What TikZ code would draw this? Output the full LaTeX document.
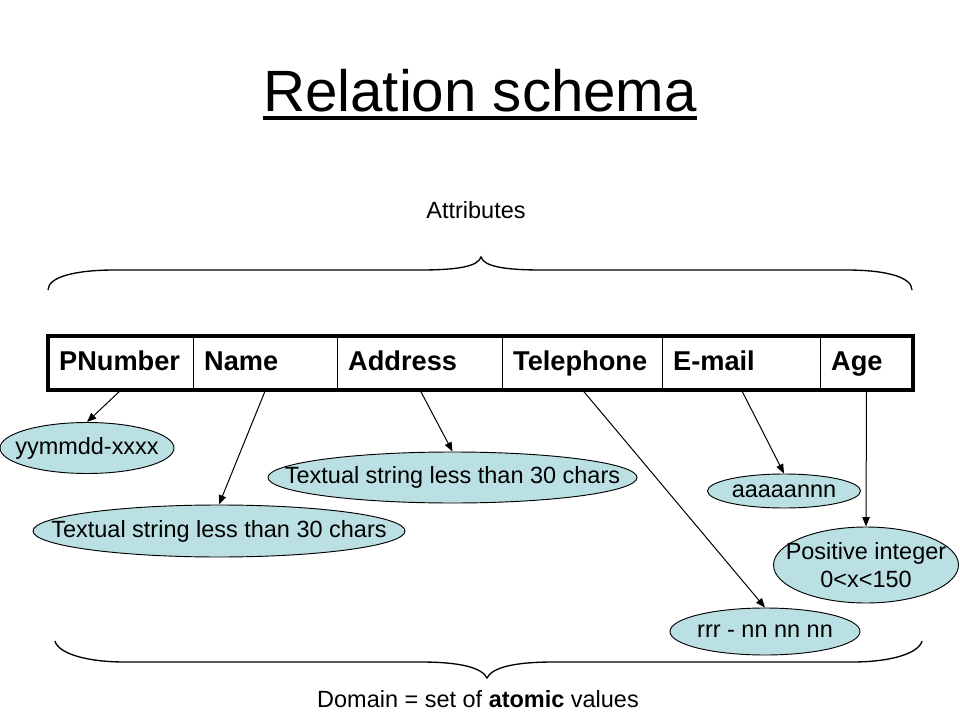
\documentclass[tikz,border=0pt]{standalone}
\usepackage{fontspec}
\setmainfont{Liberation Sans}
\usetikzlibrary{shapes.geometric,arrows.meta}
\definecolor{dombg}{RGB}{187,224,227}
\begin{document}
\begin{tikzpicture}[x=0.75pt,y=-0.75pt,
  smalltext/.style={font=\fontsize{17.6}{20.5}\selectfont,inner sep=0pt},
  dom/.style={ellipse,draw=black,line width=0.7pt,fill=dombg,inner sep=0pt,
    minimum width=#1},
  domtext/.style={font=\fontsize{17.6}{20.5}\selectfont,inner sep=0pt,align=center},
  cell/.style={draw=black,line width=0.75pt,rectangle,anchor=north west,
    minimum height=39.75pt,inner xsep=8pt,inner ysep=0pt,align=left,
    text height=15pt,text depth=4pt,
    text width=#1,font=\fontsize{20.4}{24}\selectfont\bfseries},
  conn/.style={-{Triangle[length=7pt,width=5.5pt]},line width=0.75pt},
  bracestyle/.style={line width=1pt}]
\useasboundingbox (0,0) rectangle (960,720);

% title
\node[anchor=base,font=\fontsize{43.7}{50}\selectfont,inner sep=0pt] (title) at (480,112) {Relation schema};
\draw[line width=3pt] ([yshift=-4.5pt]title.base west) -- ([yshift=-4.5pt]title.base east);

% attributes label and brace
\node[smalltext,anchor=base] (attr) at (476,219) {Attributes};
\draw[bracestyle] (48,290) .. controls (48,277) and (75,270) .. (115,270) -- (420,270)
  .. controls (460,270) and (478,266) .. (481,257)
  .. controls (484,266) and (502,270) .. (542,270) -- (846,270)
  .. controls (886,270) and (912,277) .. (912,290);

% table
\node[cell=92.75pt]  (c1) at (48,336)  {PNumber};
\node[cell=92pt]     (c2) at (193,336) {Name};
\node[cell=107.75pt] (c3) at (337,336) {Address};
\node[cell=104pt]    (c4) at (502,336) {Telephone};
\node[cell=102.5pt]  (c5) at (662,336) {E-mail};
\node[cell=53pt]     (c6) at (820,336) {Age};
\draw[line width=2.6pt] (c1.north west) rectangle (c6.south east);

% domains
\node[dom=130.5pt,minimum height=38.25pt] (d1) at (87,448) {};
\node[dom=279pt,minimum height=39pt] (d2) at (219,531) {};
\node[dom=276.75pt,minimum height=38.25pt] (d3) at (452.5,477.5) {};
\node[dom=142.5pt,minimum height=35.25pt] (d4) at (765,631.5) {};
\node[dom=114.75pt,minimum height=25.5pt] (d5) at (784,491) {};
\node[dom=138.75pt,minimum height=57pt] (d6) at (866,565) {};
\node[domtext] (t1) at (d1) {yymmdd-xxxx};
\node[domtext] (t2) at (d2) {Textual string less than 30 chars};
\node[domtext] (t3) at (d3) {Textual string less than 30 chars};
\node[domtext] (t4) at (d4) {rrr - nn nn nn};
\node[domtext] (t5) at (d5) {aaaaannn};
\node[domtext] (t6) at (d6) {Positive integer\\0<x<150};

% connectors
\draw[conn] (c1.south) -- (d1.north);
\draw[conn] (c2.south) -- (d2.north);
\draw[conn] (c3.south) -- (d3.north);
\draw[conn] (c4.south) -- (d4.north);
\draw[conn] (c5.south) -- (d5.north);
\draw[conn] (c6.south) -- (d6.north);

% domain brace and label
\draw[bracestyle] (55,641) .. controls (58,653) and (85,662) .. (125,662) -- (420,662)
  .. controls (462,662) and (482,668) .. (487,678)
  .. controls (492,668) and (512,662) .. (554,662) -- (852,662)
  .. controls (892,662) and (919,653) .. (922,641);
\node[smalltext,anchor=base] (domain) at (478,707) {Domain = set of \textbf{atomic} values};
\end{tikzpicture}
\end{document}
